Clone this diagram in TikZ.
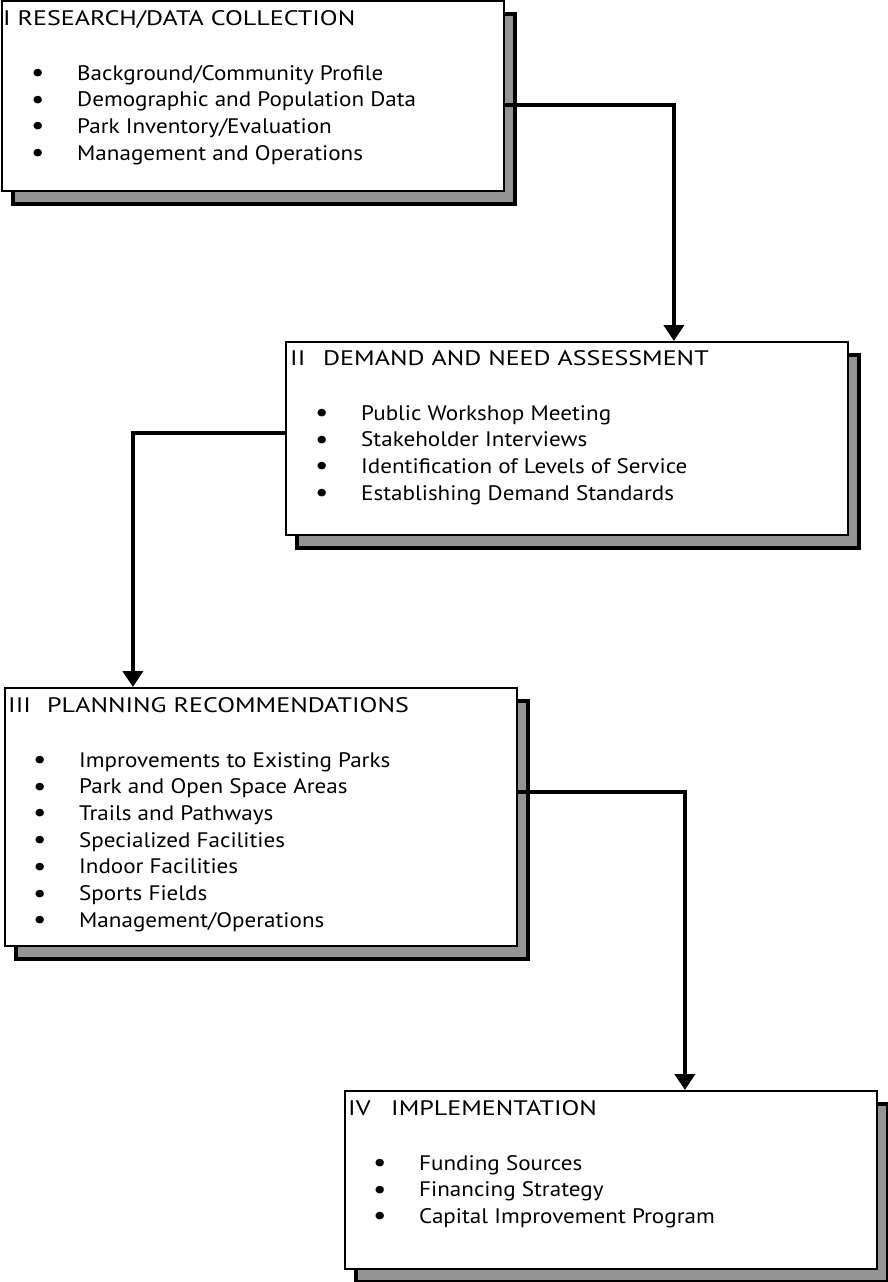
\documentclass[tikz,border=0pt]{standalone}
\usepackage{fontspec}
\setmainfont{PT Sans}
\newfontfamily\bodyfont[FakeStretch=1.1]{PT Sans}
\newfontfamily\headfont[FakeStretch=1.24]{PT Sans}
\usetikzlibrary{arrows.meta,shadows}

\tikzset{
  stage/.style={draw=black, line width=1.8pt, fill=white, anchor=north west, inner sep=0pt,
    drop shadow={shadow xshift=11pt, shadow yshift=-13pt, fill=black!42, draw=black, opacity=1, line width=3.8pt}},
  head/.style={anchor=base west, inner sep=0pt, font=\headfont\fontsize{21}{24}\selectfont},
  items/.style={anchor=base west, inner sep=0pt, align=left, font=\bodyfont\fontsize{21}{26.7}\selectfont},
  link/.style={line width=4pt, -{Triangle[width=20pt,length=16pt]}}
}
\newcommand{\itm}{\makebox[46pt][l]{\raisebox{-1.5pt}{\fontsize{27}{27}\selectfont\textbullet}}}

\begin{document}
\begin{tikzpicture}[x=1pt, y=-1pt]
	\useasboundingbox (0,0) rectangle (887,1282);

	% stage boxes
	\node[stage, minimum width=502pt, minimum height=190pt] (research) at (1,0) {};
	\node[stage, minimum width=562pt, minimum height=193pt] (demand) at (285,341) {};
	\node[stage, minimum width=512pt, minimum height=258pt] (planning) at (4,687) {};
	\node[stage, minimum width=532pt, minimum height=178pt] (implement) at (344,1090) {};

	% headings
	\node[head] (h1) at ([shift={(2pt,-25pt)}]research.north west) {I RESEARCH/DATA COLLECTION};
	\node[head] (h2) at ([shift={(5pt,-24pt)}]demand.north west) {\makebox[33pt][l]{II}DEMAND AND NEED ASSESSMENT};
	\node[head] (h3) at ([shift={(4pt,-25pt)}]planning.north west) {\makebox[39pt][l]{III}PLANNING RECOMMENDATIONS};
	\node[head] (h4) at ([shift={(4pt,-25pt)}]implement.north west) {\makebox[43pt][l]{IV}IMPLEMENTATION};

	% bullet lists (anchored at the baseline of their last line)
	\node[items] (l1) at ([shift={(30pt,-160.1pt)}]research.north west)
		{\itm Background/Community Profile\\ \itm Demographic and Population Data\\
		 \itm Park Inventory/Evaluation\\ \itm Management and Operations};
	\node[items] (l2) at ([shift={(30pt,-159.1pt)}]demand.north west)
		{\itm Public Workshop Meeting\\ \itm Stakeholder Interviews\\
		 \itm Identification of Levels of Service\\ \itm Establishing Demand Standards};
	\node[items] (l3) at ([shift={(29pt,-240.2pt)}]planning.north west)
		{\itm Improvements to Existing Parks\\ \itm Park and Open Space Areas\\
		 \itm Trails and Pathways\\ \itm Specialized Facilities\\ \itm Indoor Facilities\\
		 \itm Sports Fields\\ \itm Management/Operations};
	\node[items] (l4) at ([shift={(29pt,-133.4pt)}]implement.north west)
		{\itm Funding Sources\\ \itm Financing Strategy\\ \itm Capital Improvement Program};

	% connectors
	\draw[link] ([yshift=-9pt]research.east) -| ([xshift=107pt]demand.north);
	\draw[link] ([yshift=5.5pt]demand.west) -| ([xshift=-128pt]planning.north);
	\draw[link] ([yshift=25pt]planning.east) -| ([xshift=74pt]implement.north);
\end{tikzpicture}
\end{document}
